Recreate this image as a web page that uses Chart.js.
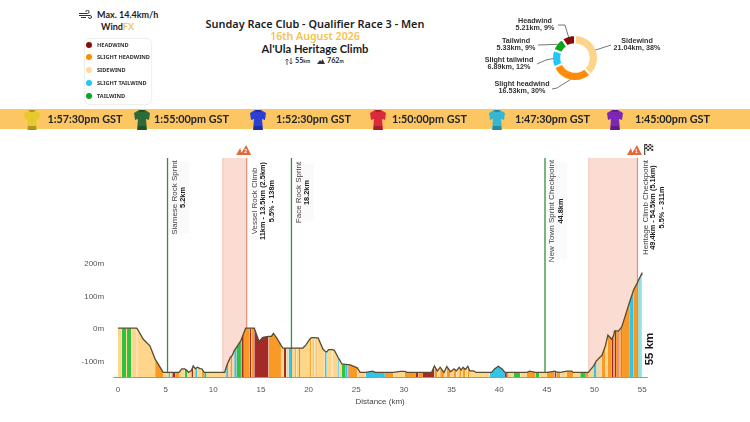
<!DOCTYPE html>
<html>
<head>
<meta charset="utf-8">
<title>Qualifier Race 3 - Wind profile</title>
<script src="https://cdn.jsdelivr.net/npm/chart.js@4"></script>
<style>
    html, body { margin: 0; padding: 0; background: #fff; }
    body { position: relative; width: 750px; height: 422px; overflow: hidden; font-family: "Noto Sans", sans-serif; color: #1c1c1c; }
    canvas { position: absolute; }
    #profile { left: 0; top: 0; }
    #donut { left: 425px; top: 8px; }
    .abs { position: absolute; white-space: nowrap; }
    .head { left: 180px; width: 270px; text-align: center; }
    .strip { left: 0; top: 109px; width: 750px; height: 20px; background: #fcc663; }
    .time { top: 109px; font: 700 10.8px/20px Lato, sans-serif; color: #20242a; }
    .legend { left: 84px; top: 38px; width: 66px; height: 65px; border: 1px solid #f0f0f0; border-radius: 6px; box-shadow: 0 0 2px rgba(0,0,0,.05); }
    .leg-dot { width: 6px; height: 6px; border-radius: 50%; }
    .leg-txt { font: 700 5.6px/8px "Noto Sans", sans-serif; color: #333; }
    small { font-size: 5px; }
</style>
</head>
<body>
<div class="abs" style="left:97px;top:8px;font:700 9px/14px Lato,sans-serif">Max. 14.4km/h</div>
<svg class="abs" style="left:79px;top:10px" width="14" height="10" viewBox="0 0 14 10" fill="none" stroke="#333" stroke-width="1">
    <path d="M0 3.5h8.5a1.6 1.6 0 1 0-1.6-1.6M0 5.5h11a1.5 1.5 0 1 1-1.5 1.5M2 7.5h5"/>
</svg>
<div class="abs" style="left:101px;top:20px;font:700 9px/14px Lato,sans-serif">Wind<span style="color:#f4c65a">FX</span></div>
<div class="abs legend"></div>

<div class="abs head" style="top:16px;font:600 10.9px/16px 'Noto Sans',sans-serif">Sunday Race Club - Qualifier Race 3 - Men</div>
<div class="abs head" style="top:28.5px;font:600 10.6px/14px 'Noto Sans',sans-serif;color:#f3c24e">16th August 2026</div>
<div class="abs head" style="top:41px;font:700 11.2px/16px Lato,sans-serif">Al'Ula Heritage Climb</div>
<svg class="abs" style="left:285px;top:58px" width="8" height="7" viewBox="0 0 8 7" fill="none" stroke="#333" stroke-width="0.8">
    <path d="M2 7V1M.5 2.5 2 1l1.5 1.5M6 0v6M4.5 4.5 6 6l1.5-1.5"/>
</svg>
<div class="abs" style="left:295px;top:55px;font:700 7.2px/12px Lato,sans-serif">55<small>km</small></div>
<svg class="abs" style="left:317px;top:59px" width="8" height="5" viewBox="0 0 8 5" fill="#333">
    <path d="M0 5 3 1l1.2 1.6L5.5 0 8 5z"/>
</svg>
<div class="abs" style="left:327px;top:55px;font:700 7.2px/12px Lato,sans-serif">762<small>m</small></div>

<div class="abs strip"></div>

<canvas id="profile" width="750" height="422"></canvas>
<canvas id="donut" width="300" height="100"></canvas>

<script>
    // ── Data ────────────────────────────────────────────────────
    const windNames = ['HEADWIND', 'SLIGHT HEADWIND', 'SIDEWIND', 'SLIGHT TAILWIND', 'TAILWIND'];
    const windDots = ['#8b0a0a', '#ff8c00', '#fbdc96', '#1fc8f5', '#0aa51e'];

    const donutLabels = ['Sidewind', 'Slight headwind', 'Slight tailwind', 'Tailwind', 'Headwind'];
    const donutKm = [21.04, 16.53, 6.89, 5.33, 5.21];
    const donutPct = [38, 30, 12, 9, 9];

    const jerseyColors = ['#e6c92c', '#2f6b38', '#2b3fd4', '#d92b3c', '#36b6d2', '#7c27b6'];
    const startTimes = ['1:57:30pm GST', '1:55:00pm GST', '1:52:30pm GST', '1:50:00pm GST', '1:47:30pm GST', '1:45:00pm GST'];

    const sprintKm = [5.2, 18.2, 44.8];
    const sprintNames = ['Siamese Rock Sprint', 'Face Rock Sprint', 'New Town Sprint Checkpoint'];
    const sprintMarks = ['5.2km', '18.2km', '44.8km'];

    const climbStartKm = [11, 49.4];
    const climbEndKm = [13.5, 54.5];
    const climbNames = ['Vessel Rock Climb', 'Heritage Climb Checkpoint'];
    const climbRanges = ['11km - 13.5km (2.5km)', '49.4km - 54.5km (5.1km)'];
    const climbStats = ['5.5% - 138m', '5.5% - 311m'];
    const climbCats = ['2', '1'];

    const distanceTicks = [0, 5, 10, 15, 20, 25, 30, 35, 40, 45, 50, 55];
    const elevationTicks = [-100, 0, 100, 200];

    // same length: km, elevation (m), wind class of the stretch starting there
    const routeKm = [
        0, 0.4, 0.85, 0.95, 1.4, 1.95, 2.05, 2.66, 3.35, 3.9, 4.75, 5.3, 5.5, 5.7, 6, 6.4, 6.7, 7, 7.25, 7.4,
        7.7, 7.9, 8.1, 8.35, 8.6, 8.8, 9.05, 9.3, 11.2, 11.35, 11.55, 11.8, 12, 12.2, 12.45, 12.9, 13, 13.2, 13.4, 13.8,
        14, 14.3, 14.8, 15.2, 15.8, 16.1, 16.3, 16.65, 17.1, 17.3, 17.4, 17.65, 17.9, 18.2, 18.6, 18.7, 19, 19.1, 19.4, 19.7,
        20, 20.15, 20.3, 20.5, 20.6, 20.8, 20.9, 21, 21.5, 21.7, 21.9, 22.1, 22.4, 22.5, 22.7, 23.1, 23.2, 23.5, 23.9, 24.1,
        24.2, 24.3, 25.1, 25.4, 26, 26.7, 27, 28, 28.9, 29.6, 30.1, 30.3, 31.2, 31.5, 32, 32.9, 33.2, 33.5, 33.8, 34.2,
        34.5, 34.9, 35.25, 35.5, 35.8, 36, 36.2, 36.45, 36.7, 36.9, 37.3, 37.6, 39, 39.2, 39.5, 39.9, 40.3, 40.6, 40.8, 41,
        41.5, 42.2, 42.9, 43.2, 43.8, 44.2, 45, 45.4, 45.8, 46, 46.4, 47.1, 47.6, 47.8, 48.5, 49, 49.35, 49.9, 50.2, 50.35, 50.4, 50.55, 50.6, 50.75,
        51.1, 51.4, 51.8, 52, 52.1, 52.25, 52.5, 52.6, 52.75, 52.85, 53, 53.7, 54.1, 54.5, 54.6, 54.7, 54.8, 54.9, 54.96
    ];
    const routeElev = [
        0, 0, 0, 0, 0, 0, -3, -34, -54, -95, -136, -136, -136, -136, -136, -136, -125, -125, -130, -136,
        -130, -116, -124, -120, -124, -125, -136, -136, -136, -120, -105, -90, -83, -69, -58, -38, -30, -15, 0, 0,
        0, 0, -41, -28, -25, -25, -16, -30, -52, -61, -61, -61, -61, -61, -61, -61, -61, -61, -61, -52,
        -39, -33, -29, -29, -29, -30, -30, -30, -64, -70, -73, -66, -66, -66, -68, -90, -95, -110, -111, -112,
        -112, -112, -122, -136, -136, -132, -136, -136, -136, -133, -133, -136, -136, -136, -136, -136, -116, -132, -120, -136,
        -118, -134, -125, -131, -120, -129, -120, -127, -117, -131, -131, -136, -136, -136, -125, -117, -125, -136, -136, -136,
        -136, -136, -136, -132, -136, -136, -136, -134, -132, -134, -136, -132, -132, -136, -136, -136, -136, -116, -100, -96, -94, -90, -88, -85,
        -58, -21, -34, -22, -8, -8, -9, -5, 0, 4, 18, 83, 118, 140, 147, 153, 159, 165, 171
    ];
    const routeWind = [
        'S', 'T', 'S', 'T', 'S', 'SH', 'S', 'S', 'S', 'SH', 'S', 'ST', 'S', 'H', 'SH', 'S', 'S', 'T', 'S', 'S',
        'H', 'S', 'ST', 'S', 'S', 'SH', 'T', 'S', 'S', 'ST', 'S', 'SH', 'S', 'ST', 'T', 'SH', 'H', 'SH', 'SH', 'H',
        'SH', 'H', 'H', 'H', 'SH', 'SH', 'SH', 'SH', 'S', 'S', 'H', 'S', 'ST', 'S', 'T', 'S', 'T', 'S', 'S', 'S',
        'S', 'SH', 'S', 'T', 'S', 'SH', 'S', 'S', 'S', 'ST', 'S', 'S', 'SH', 'S', 'S', 'ST', 'S', 'T', 'ST', 'H',
        'SH', 'SH', 'S', 'S', 'ST', 'ST', 'ST', 'SH', 'S', 'S', 'SH', 'SH', 'H', 'SH', 'H', 'H', 'SH', 'S', 'SH', 'S',
        'SH', 'S', 'SH', 'S', 'SH', 'S', 'SH', 'S', 'SH', 'S', 'S', 'S', 'ST', 'ST', 'ST', 'ST', 'ST', 'H', 'SH', 'S',
        'T', 'S', 'SH', 'SH', 'T', 'S', 'SH', 'SH', 'H', 'SH', 'S', 'SH', 'SH', 'S', 'T', 'SH', 'S', 'ST', 'S', 'T', 'S', 'T', 'S', 'SH',
        'S', 'SH', 'H', 'SH', 'H', 'SH', 'H', 'SH', 'H', 'SH', 'SH', 'ST', 'SH', 'T', 'ST', 'T', 'ST', 'T', 'T'
    ];

    // fill colours on the profile are a little softer than the legend dots
    const windFill = { H: '#a32a26', SH: '#fa9a26', S: '#fdd68b', ST: '#35c4e2', T: '#2ec240' };

    const axisMin = -150;
    const axisTop = 523;

    // ── Page bits around the charts ─────────────────────────────
    const jerseyX = [32, 142, 258, 378, 497, 615];
    const timeX = [47.5, 154, 276, 392, 515, 635];

    startTimes.forEach((t, i) => {
        const el = document.createElement('div');
        el.className = 'abs time';
        el.style.left = timeX[i] + 'px';
        el.textContent = t;
        document.body.appendChild(el);

        const svg = document.createElementNS('http://www.w3.org/2000/svg', 'svg');
        svg.setAttribute('width', 18);
        svg.setAttribute('height', 22);
        svg.setAttribute('viewBox', '0 0 18 22');
        svg.setAttribute('class', 'abs');
        svg.style.left = (jerseyX[i] - 9) + 'px';
        svg.style.top = '109px';
        svg.innerHTML = '<path fill="' + jerseyColors[i] + '" d="M6 1h6l5 3-1 7-3-1 1 11H4L5 10l-3 1-1-7z"/>' +
            '<path fill="rgba(0,0,0,.25)" d="M6 1h6l-1 2H7zM5 17h8l.2 4H4.8z"/>';
        document.body.appendChild(svg);
    });

    windNames.forEach((n, i) => {
        const y = 44.5 + i * 12.9;
        const dot = document.createElement('div');
        dot.className = 'abs leg-dot';
        dot.style.cssText = 'left:86px;top:' + (y - 3) + 'px;background:' + windDots[i];
        document.body.appendChild(dot);
        const txt = document.createElement('div');
        txt.className = 'abs leg-txt';
        txt.style.cssText = 'left:97px;top:' + (y - 4) + 'px';
        txt.textContent = n;
        document.body.appendChild(txt);
    });

    // ── Elevation profile ───────────────────────────────────────
    const routePoints = routeKm.map((km, i) => ({ x: km, y: routeElev[i] }));

    function spanBand(from, to, color) {
        return {
            data: [{ x: from, y: axisTop }, { x: to, y: axisTop }],
            borderWidth: 0,
            backgroundColor: color,
            pointRadius: 0,
            fill: 'start',
        };
    }

    function edgeLine(km, color, width) {
        return {
            data: [{ x: km, y: axisMin }, { x: km, y: axisTop }],
            borderColor: color,
            borderWidth: width,
            pointRadius: 0,
            fill: false,
        };
    }

    // Chart.js paints the first dataset last, so the route goes first
    const bandSets = climbStartKm.flatMap((start, i) => [
        edgeLine(start, '#f3bfb0', 1),
        edgeLine(climbEndKm[i], '#e3917a', 1.2),
        spanBand(start, climbEndKm[i], '#fbdcd3'),
    ]);
    const sprintSets = sprintKm.map(km => edgeLine(km, '#2f8f3c', 1.3));

    function verticalText(c, x, y, text, font, color) {
        c.save();
        c.translate(x, y);
        c.rotate(-Math.PI / 2);
        c.font = font;
        c.fillStyle = color;
        c.textAlign = 'center';
        c.textBaseline = 'middle';
        c.fillText(text, 0, 0);
        c.restore();
    }

    function climbIcon(c, x, y, label) {
        c.fillStyle = '#e2693a';
        c.beginPath();
        c.moveTo(x - 9, y + 5);
        c.lineTo(x - 5, y - 2);
        c.lineTo(x - 3, y + 5);
        c.closePath();
        c.moveTo(x - 5, y + 5);
        c.lineTo(x + 1, y - 5);
        c.lineTo(x + 6, y + 5);
        c.closePath();
        c.fill();
        c.fillStyle = '#fff';
        c.font = 'bold 5px "Liberation Sans"';
        c.textAlign = 'center';
        c.textBaseline = 'middle';
        c.fillText(label, x + 0.5, y + 2);
    }

    function finishFlag(c, x, y) {
        c.fillStyle = '#222';
        c.fillRect(x, y, 1, 11);
        for (let r = 0; r < 4; r++) {
            for (let k = 0; k < 4; k++) {
                c.fillStyle = (r + k) % 2 ? '#ddd' : '#222';
                c.fillRect(x + 1 + k * 2, y + r * 1.7, 2, 1.7);
            }
        }
    }

    const routeNotes = {
        id: 'routeNotes',
        afterDraw(chart) {
            const c = chart.ctx;
            const xs = chart.scales.x;
            const noteFont = '8px "Liberation Sans"';
            const markFont = 'bold 7.4px "Liberation Sans"';

            const noteY = [197.5, 192.5, 211];
            const noteSpan = [72, 58, 96];
            sprintKm.forEach((km, i) => {
                const x = xs.getPixelForValue(km);
                c.fillStyle = 'rgba(120,120,120,0.035)';
                c.fillRect(x + 2, noteY[i] - noteSpan[i] / 2, 20, noteSpan[i]);
                verticalText(c, x + 7, noteY[i], sprintNames[i], noteFont, '#444');
                verticalText(c, x + 15.5, noteY[i], sprintMarks[i], markFont, '#222');
            });

            const climbY = [201, 207.5];
            climbEndKm.forEach((km, i) => {
                const x = xs.getPixelForValue(km);
                verticalText(c, x + 8.5, climbY[i], climbNames[i], noteFont, '#444');
                verticalText(c, x + 16, climbY[i], climbRanges[i], markFont, '#222');
                verticalText(c, x + 25, climbY[i], climbStats[i], markFont, '#222');
                climbIcon(c, x - 1.5, 150, climbCats[i]);
            });

            const endX = xs.getPixelForValue(55);
            finishFlag(c, endX + 2, 144);
            verticalText(c, endX + 7.5, 349, '55 km', 'bold 11.5px "Liberation Sans"', '#1a1a1a');
        },
    };

    new Chart(document.getElementById('profile'), {
        type: 'line',
        data: {
            datasets: [
                {
                    label: 'Elevation',
                    data: routePoints,
                    fill: false,
                    borderColor: '#5a4a30',
                    borderWidth: 1.3,
                    pointRadius: 0,
                },
                {
                    label: 'Wind',
                    data: routePoints,
                    fill: 'start',
                    borderWidth: 0,
                    pointRadius: 0,
                    backgroundColor: windFill.S,
                    segment: {
                        backgroundColor: ctx => windFill[routeWind[ctx.p0DataIndex]],
                        borderColor: 'rgba(0,0,0,0)',
                    },
                },
                ...sprintSets,
                ...bandSets,
            ],
        },
        options: {
            responsive: false,
            animation: false,
            parsing: false,
            normalized: true,
            layout: { padding: { top: 158, right: 103, left: 0, bottom: 15 } },
            plugins: { legend: { display: false }, tooltip: { enabled: false } },
            scales: {
                x: {
                    type: 'linear',
                    min: -0.5,
                    max: 55.5,
                    afterBuildTicks: s => { s.ticks = distanceTicks.map(v => ({ value: v })); },
                    afterFit: s => { s.height = 30; },
                    grid: { display: false, drawTicks: true, tickLength: 5, tickColor: '#999', drawOnChartArea: false },
                    border: { display: true, color: '#999' },
                    ticks: { color: '#555', font: { family: 'Liberation Sans', size: 8 }, maxRotation: 0, padding: 3, autoSkip: false },
                    title: { display: true, text: 'Distance (km)', color: '#444', font: { family: 'Liberation Sans', size: 8 }, padding: { top: 1, bottom: 0 } },
                },
                y: {
                    min: axisMin,
                    max: axisTop,
                    afterBuildTicks: s => { s.ticks = elevationTicks.map(v => ({ value: v })); },
                    afterFit: s => { s.width = 113.2; },
                    grid: { display: false, drawTicks: false },
                    border: { display: false },
                    ticks: { color: '#555', font: { family: 'Liberation Sans', size: 8 }, padding: 9, labelOffset: 1, callback: v => v + 'm', autoSkip: false },
                },
            },
        },
        plugins: [routeNotes],
    });

    // ── Wind share doughnut ─────────────────────────────────────
    // label block centre, leader end and optional elbow, canvas px
    const calloutSpots = [
        { x: 212, y: 37, endX: 186, endY: 37 },
        { x: 97, y: 80, endX: 127, endY: 81, elbowX: 132, elbowY: 80 },
        { x: 84, y: 56, endX: 112, endY: 56, elbowX: 121, elbowY: 52 },
        { x: 91, y: 36.5, endX: 113, endY: 37 },
        { x: 110, y: 17, endX: 133, endY: 17, elbowX: 140, elbowY: 17 },
    ];

    const callouts = {
        id: 'callouts',
        afterDraw(chart) {
            const c = chart.ctx;
            const arcs = chart.getDatasetMeta(0).data;
            c.font = 'bold 7.2px "Liberation Sans"';
            c.textAlign = 'center';
            c.textBaseline = 'middle';
            arcs.forEach((arc, i) => {
                const mid = (arc.startAngle + arc.endAngle) / 2;
                const s = calloutSpots[i];
                c.strokeStyle = '#555';
                c.lineWidth = 0.8;
                c.beginPath();
                c.moveTo(arc.x + Math.cos(mid) * (arc.outerRadius - 1), arc.y + Math.sin(mid) * (arc.outerRadius - 1));
                if (s.elbowX) c.lineTo(s.elbowX, s.elbowY);
                c.lineTo(s.endX, s.endY);
                c.stroke();
                c.fillStyle = '#333';
                c.fillText(donutLabels[i], s.x, s.y - 3.5);
                c.fillText(donutKm[i] + 'km, ' + donutPct[i] + '%', s.x, s.y + 3.5);
            });
        },
    };

    new Chart(document.getElementById('donut'), {
        type: 'doughnut',
        data: {
            labels: donutLabels,
            datasets: [{
                data: donutKm,
                backgroundColor: ['#fdd58a', '#ff8c0a', '#1fc8f8', '#0aa51a', '#8b0a0a'],
                borderColor: '#fff',
                borderWidth: 2,
            }],
        },
        options: {
            responsive: false,
            animation: false,
            cutout: '60%',
            layout: { padding: { top: 26, bottom: 26 } },
            plugins: { legend: { display: false }, tooltip: { enabled: false } },
        },
        plugins: [callouts],
    });
</script>
</body>
</html>
